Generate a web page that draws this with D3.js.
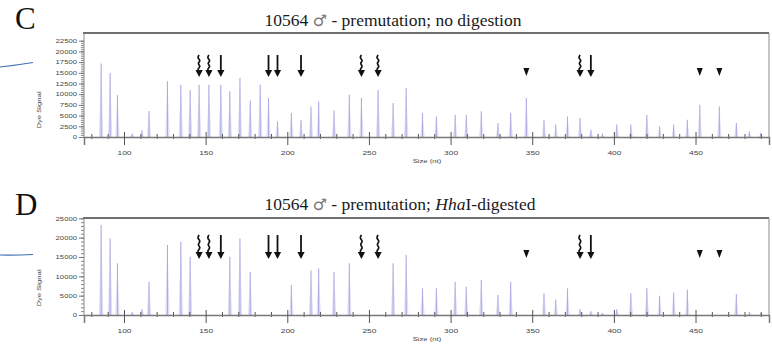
<!DOCTYPE html>
<html>
<head>
<meta charset="utf-8">
<script src="https://cdn.jsdelivr.net/npm/d3@7"></script>
<style>
  body { margin: 0; background: #fff; }
  svg { display: block; }
  .tick text { font-family: "Liberation Sans", Arial, sans-serif; fill: #444; }
</style>
</head>
<body>
<div id="chart"></div>
<script>
// ---- data ----
const peakSize = [86, 91.5, 96, 105, 111, 115.3, 126.6, 134.8, 140.5, 146, 152, 159.3, 164.8, 171, 177.3, 183.4,
  188.5, 194, 202.5, 208.4, 214.5, 219.2, 228.6, 238, 245.4, 255.6, 264.8, 272.8, 282.8, 291.3, 302.8, 309.6,
  318.8, 329, 336.8, 346.4, 357.2, 364.4, 371.6, 379.3, 385.9, 393, 401.8, 410.4, 420.2, 428, 436.6, 445,
  452.6, 464.6, 475, 483, 490];

const signalC = [17200, 14950, 9800, 800, 1500, 6100, 13000, 12200, 11000, 12200, 12200, 12200, 10700, 13800, 8550, 12200,
  9100, 3650, 5600, 4050, 7150, 8300, 6200, 9850, 9100, 11000, 7950, 11450, 5600, 4800, 5200, 5200,
  6000, 3270, 5600, 9100, 4050, 2900, 4800, 4450, 1700, 800, 2900, 2900, 5200, 2500, 2900, 4050,
  7550, 7150, 3270, 1300, 1000];

const signalD = [23250, 19800, 13350, 800, 1500, 8600, 18100, 18950, 15050, 0, 0, 0, 15050, 19800, 11200, 0,
  0, 0, 7750, 0, 11500, 12050, 11200, 13350, 0, 0, 13350, 15500, 6900, 6900, 8600, 7300,
  9050, 5150, 8600, 0, 5600, 4000, 6900, 1500, 1000, 500, 1500, 5600, 6900, 5000, 5800, 6600,
  0, 0, 5400, 800, 500];

const xTicks = [100, 150, 200, 250, 300, 350, 400, 450];
const yTicksC = [0, 2500, 5000, 7500, 10000, 12500, 15000, 17500, 20000, 22500];
const yTicksD = [0, 5000, 10000, 15000, 20000, 25000];

// markers above peaks: "s" straight arrow, "w" wavy arrow, "t" triangle
const markSize = [146, 152, 159.3, 188.5, 194, 208.4, 245.4, 255.6, 346.4, 379.3, 385.9, 452.6, 464.6];
const markType = ["w", "w", "s", "s", "s", "s", "w", "w", "t", "w", "s", "t", "t"];

const panels = [
  { letter: "C", title: [["10564 ", "n"], ["\u2642", "sym"], [" - premutation; no digestion", "n"]], signal: signalC,
    top: 33, base: 137, yMax: 22500, yMaxPx: 40.7, yTicks: yTicksC, minorStep: 500,
    letterY: 29, titleX: 393, titleY: 25.5, arrowTop: 55, arrowTip: 77, lineY: [67, 62.5] },
  { letter: "D", title: [["10564 ", "n"], ["\u2642", "sym"], [" - premutation; ", "n"], ["Hha", "i"], ["I-digested", "n"]], signal: signalD,
    top: 218, base: 315, yMax: 25000, yMaxPx: 218.3, yTicks: yTicksD, minorStep: 1000,
    letterY: 215, titleX: 400, titleY: 210, arrowTop: 235, arrowTip: 259, lineY: [255, 254.5] }
];

const width = 772, height = 349;
const left = 84, right = 769;

const svg = d3.select("#chart").append("svg")
  .attr("width", width)
  .attr("height", height);

const x = d3.scaleLinear().domain([75.5, 495]).range([left, right]);

panels.forEach(function (p) {
  const y = d3.scaleLinear().domain([0, p.yMax]).range([p.base, p.yMaxPx]);
  const g = svg.append("g");

  // blue pointer line on the far left
  g.append("path")
    .attr("d", `M0,${p.lineY[0]} Q16,${(p.lineY[0] + p.lineY[1]) / 2 + 0.5} 33,${p.lineY[1]}`)
    .attr("fill", "none")
    .attr("stroke", "#3d6fb4")
    .attr("stroke-width", 1.2);

  // panel letter
  g.append("text")
    .attr("x", 15).attr("y", p.letterY)
    .style("font-family", "'Liberation Serif', 'Times New Roman', serif")
    .style("font-size", "31px")
    .style("fill", "#111")
    .text(p.letter);

  // title
  const t = g.append("text")
    .attr("x", p.titleX).attr("y", p.titleY)
    .attr("text-anchor", "middle")
    .style("font-family", "'Liberation Serif', 'Times New Roman', serif")
    .style("font-size", "17.5px")
    .style("fill", "#1a1a1a");
  p.title.forEach(function (s) {
    const sp = t.append("tspan").text(s[0]);
    if (s[1] === "i") sp.style("font-style", "italic");
    if (s[1] === "sym") sp.style("font-family", "'DejaVu Sans', sans-serif").style("font-size", "16px").style("fill", "#777");
  });

  // peaks
  const peaks = peakSize.map(function (s, i) { return { s: s, v: p.signal[i] }; })
    .filter(function (d) { return d.v > 0; });

  g.append("g").selectAll("path")
    .data(peaks)
    .join("path")
    .attr("d", function (d) {
      const px = x(d.s);
      return `M${px - 2.2},${p.base} L${px},${y(d.v)} L${px + 2.2},${p.base} Z`;
    })
    .attr("fill", "#e0e0f6");

  g.append("g").selectAll("line")
    .data(peaks)
    .join("line")
    .attr("x1", function (d) { return x(d.s); })
    .attr("x2", function (d) { return x(d.s); })
    .attr("y1", p.base)
    .attr("y2", function (d) { return y(d.v); })
    .attr("stroke", "#acacE4")
    .attr("stroke-width", 1.1);

  // frame: thick top, thin sides
  g.append("line").attr("x1", left - 1).attr("x2", right).attr("y1", p.top).attr("y2", p.top)
    .attr("stroke", "#6f6f6f").attr("stroke-width", 2);
  g.append("line").attr("x1", right).attr("x2", right).attr("y1", p.top).attr("y2", p.base)
    .attr("stroke", "#8a8a8a").attr("stroke-width", 1);
  g.append("line").attr("x1", left).attr("x2", left).attr("y1", p.top).attr("y2", p.base)
    .attr("stroke", "#8a8a8a").attr("stroke-width", 1);

  // y axis (minor then major)
  const minor = d3.range(0, p.yMax + 1, p.minorStep);
  g.append("g")
    .attr("transform", `translate(${left},0)`)
    .call(d3.axisLeft(y).tickValues(minor).tickSize(3).tickFormat(""))
    .call(function (a) { a.select(".domain").remove(); a.selectAll("line").attr("stroke", "#888"); });

  const ya = g.append("g")
    .attr("transform", `translate(${left},0)`)
    .call(d3.axisLeft(y).tickValues(p.yTicks).tickSize(5).tickPadding(2).tickFormat(d3.format("d")));
  ya.select(".domain").remove();
  ya.selectAll("line").attr("stroke", "#777");
  ya.selectAll("text")
    .style("font-size", "5.5px")
    .attr("x", -5)
    .attr("transform", "scale(1.4,1)");

  // y label
  g.append("text")
    .attr("transform", `translate(41,${p.base - 27}) rotate(-90) scale(1.4,1)`)
    .attr("text-anchor", "middle")
    .style("font-family", "'Liberation Sans', Arial, sans-serif")
    .style("font-size", "5.5px")
    .style("fill", "#444")
    .text("Dye Signal");

  // x axis: minor ticks every 10, major every 50
  const xMinor = d3.range(80, 495, 10).filter(function (v) { return v % 50 !== 0; });
  g.append("g")
    .attr("transform", `translate(0,${p.base + 2})`)
    .call(d3.axisBottom(x).tickValues(xMinor).tickSizeInner(-5).tickSizeOuter(0).tickFormat(""))
    .call(function (a) { a.select(".domain").remove(); a.selectAll("line").attr("stroke", "#555"); });

  const xa = g.append("g")
    .attr("transform", `translate(0,${p.base})`)
    .call(d3.axisBottom(x).tickValues(xTicks).tickSizeOuter(0).tickSize(8).tickPadding(6).tickFormat(d3.format("d")));
  xa.select(".domain").attr("stroke", "#777").attr("stroke-width", 1.5);
  xa.selectAll("line").attr("stroke", "#555").attr("y1", -5);
  xa.selectAll("text")
    .style("font-size", "6px")
    .attr("transform", "scale(1.4,1)");

  g.append("text")
    .attr("transform", `translate(427,${p.base + 26}) scale(1.4,1)`)
    .attr("text-anchor", "middle")
    .style("font-family", "'Liberation Sans', Arial, sans-serif")
    .style("font-size", "5.5px")
    .style("fill", "#444")
    .text("Size (nt)");

  // markers
  const marks = markSize.map(function (s, i) { return { s: s, type: markType[i] }; });
  const mg = g.append("g").selectAll("g")
    .data(marks)
    .join("g")
    .attr("transform", function (d) { return `translate(${x(d.s)},0)`; });

  const wave = d3.line().curve(d3.curveBasis);

  mg.each(function (d) {
    const m = d3.select(this);
    const y0 = p.arrowTop, y1 = p.arrowTip;
    if (d.type === "t") {
      m.append("path")
        .attr("d", `M-3,${y1 - 9} L3,${y1 - 9} L0,${y1 - 1} Z`)
        .attr("fill", "#111");
      return;
    }
    if (d.type === "s") {
      m.append("line").attr("x1", 0).attr("x2", 0).attr("y1", y0).attr("y2", y1 - 5)
        .attr("stroke", "#111").attr("stroke-width", 1.8);
    } else {
      const pts = [];
      const n = 6;
      for (let k = 0; k <= n; k++) {
        pts.push([k === 0 || k === n ? 0 : (k % 2 ? -2 : 2), y0 + (y1 - 5 - y0) * k / n]);
      }
      m.append("path").attr("d", wave(pts))
        .attr("fill", "none").attr("stroke", "#111").attr("stroke-width", 1.7);
    }
    m.append("path")
      .attr("d", `M-3.6,${y1 - 7} L3.6,${y1 - 7} L0,${y1} Z`)
      .attr("fill", "#111");
  });
});
</script>
</body>
</html>
